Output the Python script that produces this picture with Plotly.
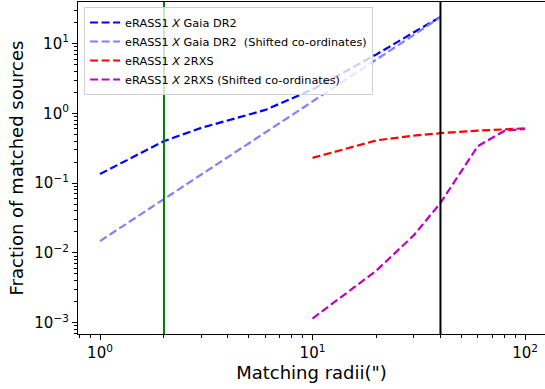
import plotly.graph_objects as go

# ---- data ----
radii_gaia = [1, 2, 3, 4, 5, 6, 10, 20, 30, 40]
frac_gaia = [0.135, 0.40, 0.62, 0.80, 0.97, 1.12, 2.2, 7.0, 14.5, 24.0]
frac_gaia_shift = [0.0148, 0.059, 0.133, 0.237, 0.37, 0.533, 1.48, 5.9, 13.3, 24.0]

radii_2rxs = [10, 20, 30, 40, 60, 80, 100]
frac_2rxs = [0.23, 0.41, 0.48, 0.52, 0.565, 0.59, 0.61]
frac_2rxs_shift = [0.00115, 0.0056, 0.018, 0.052, 0.34, 0.56, 0.60]

series_names = [
    "eRASS1 <i>X</i> Gaia DR2",
    "eRASS1 <i>X</i> Gaia DR2 \u00a0(Shifted co-ordinates)",
    "eRASS1 <i>X</i> 2RXS",
    "eRASS1 <i>X</i> 2RXS (Shifted co-ordinates)",
]
series_colors = ["#0000ff", "#8080ff", "#ff0000", "#bf00bf"]

green_radius = 2
black_radius = 40

x_tickvals = [1, 10, 100]
x_ticktext = ["10<sup>0</sup>", "10<sup>1</sup>", "10<sup>2</sup>"]
y_tickvals = [1e-3, 1e-2, 1e-1, 1, 10]
y_ticktext = ["10<sup>\u22123</sup>", "10<sup>\u22122</sup>", "10<sup>\u22121</sup>",
              "10<sup>0</sup>", "10<sup>1</sup>"]

x_minor = [m * 10 ** e for e in (-1, 0, 1, 2) for m in range(2, 10)]
y_minor = [m * 10 ** e for e in (-4, -3, -2, -1, 0, 1) for m in range(2, 10)]

fig = go.Figure()
data = [
    (radii_gaia, frac_gaia),
    (radii_gaia, frac_gaia_shift),
    (radii_2rxs, frac_2rxs),
    (radii_2rxs, frac_2rxs_shift),
]
for (xs, ys), name, col in zip(data, series_names, series_colors):
    fig.add_trace(go.Scatter(
        x=xs, y=ys, mode="lines", name=name,
        line=dict(color=col, width=2.2, dash="8px,3.5px"),
    ))

fig.add_vline(x=green_radius, line=dict(color="#008000", width=2))
fig.add_vline(x=black_radius, line=dict(color="#000000", width=2))

font_family = "DejaVu Sans"
fig.update_layout(
    width=545, height=389,
    margin=dict(l=78, r=0, t=2, b=55),
    paper_bgcolor="white", plot_bgcolor="white",
    font=dict(family=font_family, color="black", size=15),
    showlegend=True,
    legend=dict(
        x=0.013, y=0.985, xanchor="left", yanchor="top",
        bgcolor="rgba(255,255,255,0.8)", bordercolor="#d0d0d0", borderwidth=1,
        font=dict(family=font_family, size=11.3, color="black"),
        tracegroupgap=0, itemwidth=30,
    ),
    xaxis=dict(
        type="log", range=[-0.1035, 2.094],
        tickmode="array", tickvals=x_tickvals, ticktext=x_ticktext,
        ticks="outside", ticklen=5, tickwidth=1.2, tickcolor="black",
        showline=True, linecolor="black", linewidth=1.2, mirror=True,
        showgrid=False, zeroline=False,
        tickfont=dict(size=15),
        title=dict(text="Matching radii(\")", font=dict(size=18), standoff=3),
        minor=dict(tickmode="array", tickvals=x_minor, ticks="outside",
                   ticklen=3, tickwidth=0.9, tickcolor="black", showgrid=False),
    ),
    yaxis=dict(
        type="log", range=[-3.161, 1.595],
        tickmode="array", tickvals=y_tickvals, ticktext=y_ticktext,
        ticks="outside", ticklen=5, tickwidth=1.2, tickcolor="black",
        showline=True, linecolor="black", linewidth=1.2, mirror=False,
        showgrid=False, zeroline=False,
        tickfont=dict(size=15),
        title=dict(text="Fraction of matched sources", font=dict(size=18), standoff=6),
        minor=dict(tickmode="array", tickvals=y_minor, ticks="outside",
                   ticklen=3, tickwidth=0.9, tickcolor="black", showgrid=False),
    ),
)

fig.write_html("out.html")
